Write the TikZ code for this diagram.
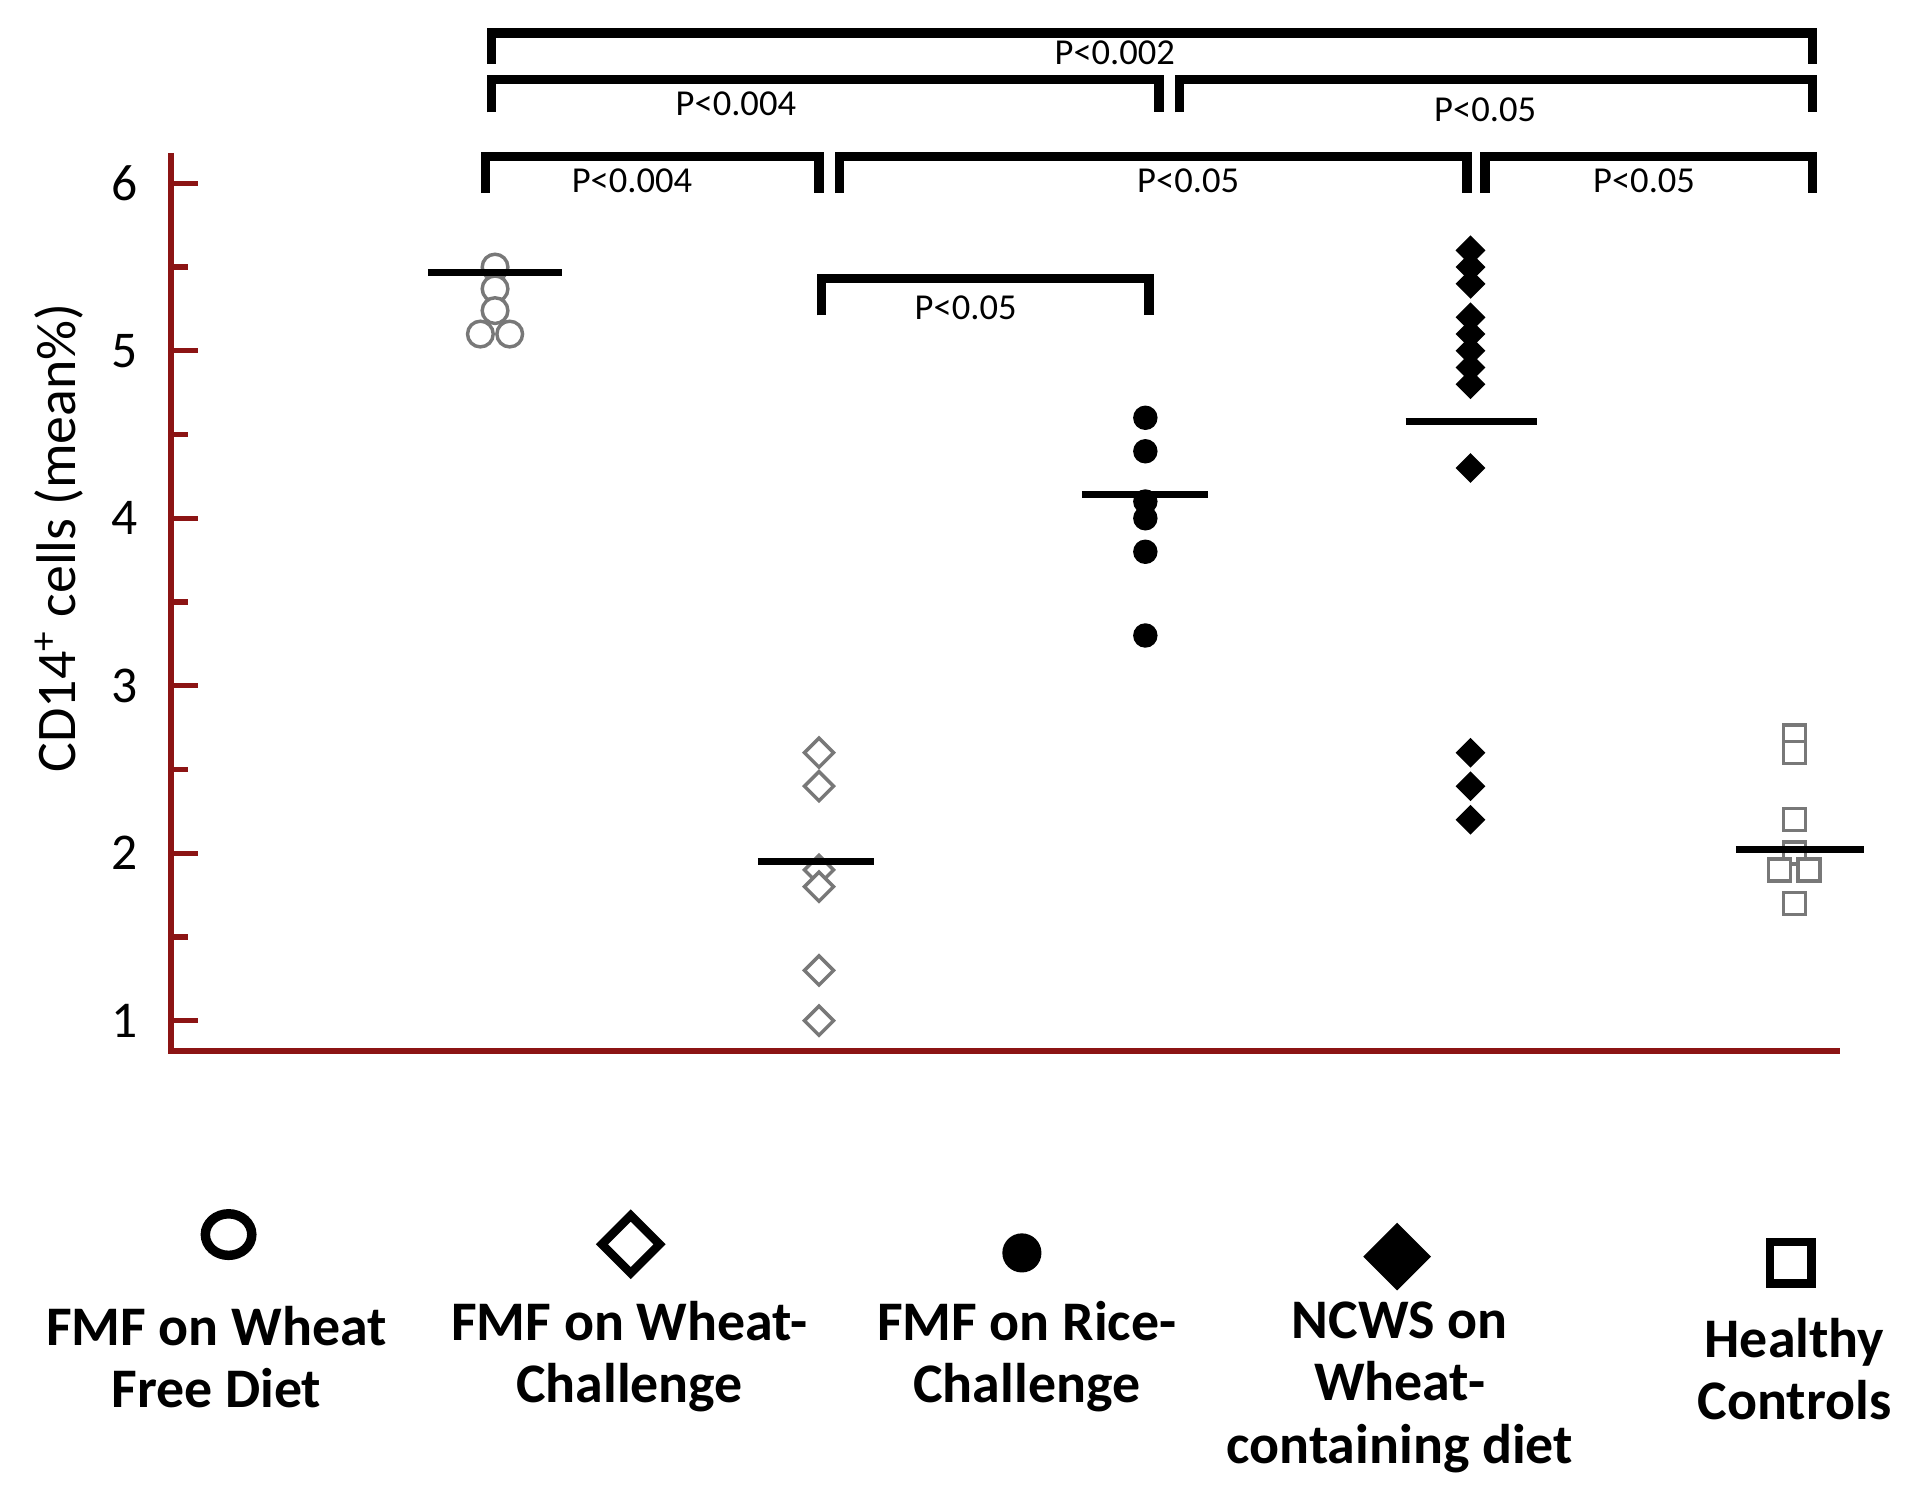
\documentclass[tikz,border=0pt]{standalone}
\usepackage{fontspec}
\setmainfont{Carlito}
\usetikzlibrary{shapes.geometric}
\definecolor{axisred}{RGB}{140,20,20}
\definecolor{mkgray}{RGB}{120,120,120}
\tikzset{
  ocirc/.style={circle, draw=mkgray, thick, fill=white, inner sep=0pt, minimum size=0.21cm},
  fcirc/.style={circle, fill=black, inner sep=0pt, minimum size=0.2cm},
  odiam/.style={diamond, draw=mkgray, thick, fill=white, inner sep=0pt, minimum size=0.25cm},
  fdiam/.style={diamond, fill=black, inner sep=0pt, minimum size=0.25cm},
  osq/.style={rectangle, draw=mkgray, thick, fill=white, inner sep=0pt, minimum size=0.18cm},
  meanbar/.style={line width=1.6pt},
  bracket/.style={line width=2.2pt},
  plab/.style={font=\fontsize{8.5}{9}\selectfont},
  leglab/.style={font=\fontsize{13}{14.5}\selectfont\bfseries, align=center}
}
\begin{document}
\begin{tikzpicture}[x=0.01cm, y=-0.01cm]
    \useasboundingbox (0,0) rectangle (1565,1225);
    % axes
    \draw[axisred, line width=1.5pt] (140,125) -- (140,860) -- (1505,860);
    \foreach \v in {1,...,6} {
      \draw[axisred, line width=1.2pt] (140,{835-(\v-1)*137}) -- (162,{835-(\v-1)*137});
      \node[anchor=east, font=\fontsize{12}{14}\selectfont] at (125,{835-(\v-1)*137}) {\v};
    }
    \foreach \v in {1.5,2.5,...,5.5}
      \draw[axisred, line width=1.2pt] (140,{835-(\v-1)*137}) -- (154,{835-(\v-1)*137});
    \node[rotate=90, font=\fontsize{13}{15}\selectfont] (ylab) at (48,440) {CD14\textsuperscript{+} cells (mean\%)};

    % group 1
    \foreach \v in {5.5,5.37,5.24} \node[ocirc] at (405,{835-(\v-1)*137}) {};
    \node[ocirc] at (393,{835-(5.1-1)*137}) {};
    \node[ocirc] at (417,{835-(5.1-1)*137}) {};
    \draw[meanbar] (350,{835-(5.47-1)*137}) -- (460,{835-(5.47-1)*137});
    % group 2
    \foreach \v in {2.6,2.4,1.9,1.8,1.3,1.0} \node[odiam] at (670,{835-(\v-1)*137}) {};
    \draw[meanbar] (620,{835-(1.95-1)*137}) -- (715,{835-(1.95-1)*137});
    % group 3
    \foreach \v in {4.6,4.4,4.1,4.0,3.8,3.3} \node[fcirc] at (937,{835-(\v-1)*137}) {};
    \draw[meanbar] (885,{835-(4.14-1)*137}) -- (988,{835-(4.14-1)*137});
    % group 4
    \foreach \v in {5.6,5.5,5.4,5.2,5.1,5.0,4.9,4.8,4.3,2.6,2.4,2.2} \node[fdiam] at (1203,{835-(\v-1)*137}) {};
    \draw[meanbar] (1150,{835-(4.58-1)*137}) -- (1257,{835-(4.58-1)*137});
    % group 5
    \foreach \v in {2.7,2.6,2.2,2.0,1.7} \node[osq] at (1468,{835-(\v-1)*137}) {};
    \node[osq] at (1456,{835-(1.9-1)*137}) {};
    \node[osq] at (1480,{835-(1.9-1)*137}) {};
    \draw[meanbar] (1420,{835-(2.02-1)*137}) -- (1525,{835-(2.02-1)*137});

    % brackets
    \draw[bracket] (402,52) -- (402,27) -- (1483,27) -- (1483,52);
    \node[plab] at (912,43) {P<0.002};
    \draw[bracket] (402,92) -- (402,65) -- (948,65) -- (948,92);
    \node[plab] at (602,85) {P<0.004};
    \draw[bracket] (965,92) -- (965,65) -- (1483,65) -- (1483,92);
    \node[plab] at (1215,90) {P<0.05};
    \draw[bracket] (397,158) -- (397,128) -- (670,128) -- (670,158);
    \node[plab] at (517,148) {P<0.004};
    \draw[bracket] (687,158) -- (687,128) -- (1200,128) -- (1200,158);
    \node[plab] at (972,148) {P<0.05};
    \draw[bracket] (1215,158) -- (1215,128) -- (1483,128) -- (1483,158);
    \node[plab] at (1345,148) {P<0.05};
    \draw[bracket] (672,258) -- (672,228) -- (940,228) -- (940,258);
    \node[plab] at (790,252) {P<0.05};

    % legend
    \draw[line width=2.2pt] (187,1010) ellipse (19 and 17);
    \node[diamond, draw, line width=2pt, inner sep=0pt, minimum size=0.5cm] (l2) at (516,1018) {};
    \fill (836,1025) circle (16);
    \node[diamond, fill=black, inner sep=0pt, minimum size=0.56cm] (l4) at (1143,1028) {};
    \draw[line width=2pt] (1448,1016) rectangle (1482,1050);
    \node[leglab] (t1) at (177,1110) {FMF on Wheat\\Free Diet};
    \node[leglab] (t2) at (515,1110) {FMF on Wheat-\\Challenge};
    \node[leglab] (t3) at (840,1110) {FMF on Rice-\\Challenge};
    \node[leglab] (t4) at (1145,1135) {NCWS on\\Wheat-\\containing diet};
    \node[leglab] (t5) at (1468,1120) {Healthy\\Controls};
\end{tikzpicture}
\end{document}
